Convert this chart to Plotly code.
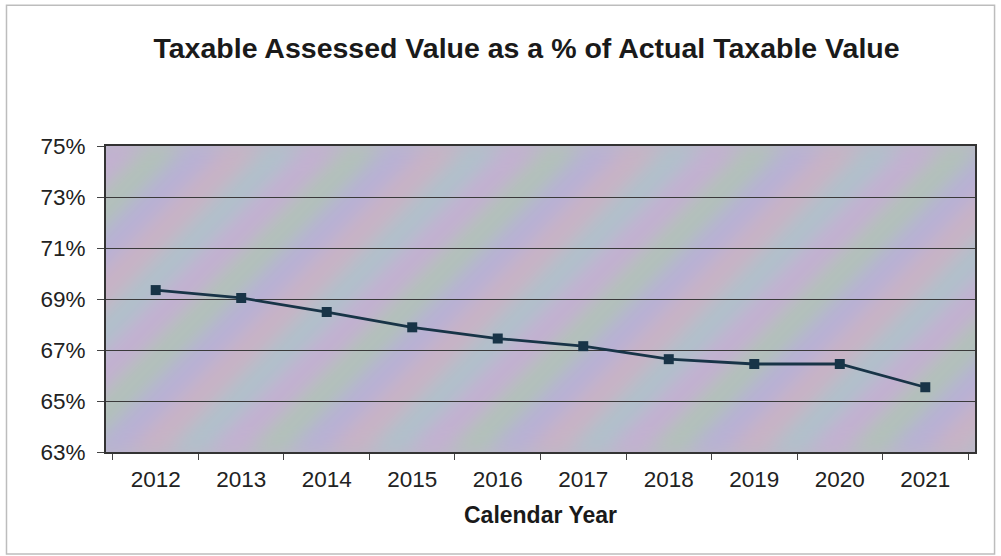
import base64
import plotly.graph_objects as go

# Calendar years and taxable assessed value as a share of actual taxable value (%)
years = ["2012", "2013", "2014", "2015", "2016", "2017", "2018", "2019", "2020", "2021"]
ratio_pct = [69.35, 69.04, 68.49, 67.89, 67.45, 67.15, 66.64, 66.45, 66.45, 65.54]
y_ticks = [63, 65, 67, 69, 71, 73, 75]
y_tick_labels = [f"{v}%" for v in y_ticks]

# Soft diagonal pastel bands for the plot background
bands = []
colors = ["#c4afd2", "#b1c2b7", "#b7b0d6", "#c9b2c4", "#afc1cb"]
for i in range(-20, 40):
    c = colors[i % len(colors)]
    x0 = i * 40
    bands.append(
        f'<polygon points="{x0},0 {x0+40},0 {x0-260},300 {x0-300},300" fill="{c}"/>'
    )
svg = (
    '<svg xmlns="http://www.w3.org/2000/svg" width="870" height="300" viewBox="0 0 870 300">'
    '<defs><filter id="b"><feGaussianBlur stdDeviation="10"/></filter></defs>'
    '<rect width="870" height="300" fill="#bcb8c8"/>'
    f'<g filter="url(#b)">{"".join(bands)}</g></svg>'
)
bg_src = "data:image/svg+xml;base64," + base64.b64encode(svg.encode()).decode()

fig = go.Figure()
fig.add_trace(
    go.Scatter(
        x=years,
        y=ratio_pct,
        mode="lines+markers",
        line=dict(color="#183447", width=2.8),
        marker=dict(symbol="square", size=10, color="#183447"),
        showlegend=False,
        hoverinfo="x+y",
    )
)

fig.update_layout(
    width=1001,
    height=556,
    margin=dict(l=106, r=26, t=146, b=104),
    paper_bgcolor="white",
    plot_bgcolor="#bcb8c8",
    font=dict(family="Arial, Liberation Sans, sans-serif", color="#222222"),
    title=dict(
        text="<b>Taxable Assessed Value as a % of Actual Taxable Value</b>",
        x=0.526,
        xanchor="center",
        y=0.914,
        yanchor="middle",
        font=dict(size=28.5, color="#1a1a1a"),
    ),
    images=[
        dict(
            source=bg_src,
            xref="paper",
            yref="paper",
            x=0,
            y=1,
            sizex=1,
            sizey=1,
            sizing="stretch",
            layer="below",
        )
    ],
    shapes=[
        dict(
            type="rect",
            xref="paper",
            yref="paper",
            x0=-0.1145,
            x1=1.0225,
            y0=-0.333,
            y1=1.46,
            line=dict(color="#bdbdbd", width=1.5),
        )
    ],
)

fig.update_xaxes(
    type="category",
    showgrid=False,
    showline=True,
    linecolor="#333333",
    linewidth=2,
    mirror=True,
    ticks="outside",
    ticklen=6,
    tickcolor="#444444",
    tickson="boundaries",
    ticklabelstandoff=6,
    tickfont=dict(size=22.5, color="#222222"),
    title=dict(
        text="<b>Calendar Year</b>",
        font=dict(size=23, color="#1a1a1a"),
        standoff=16,
    ),
    zeroline=False,
)

fig.update_yaxes(
    range=[63, 75],
    tickvals=y_ticks,
    ticktext=y_tick_labels,
    showgrid=True,
    gridcolor="#3a3a3a",
    gridwidth=1.3,
    showline=True,
    linecolor="#333333",
    linewidth=2,
    mirror=True,
    ticks="outside",
    ticklen=7,
    tickcolor="#444444",
    ticklabelstandoff=7,
    tickfont=dict(size=22.5, color="#222222"),
    zeroline=False,
)

fig.write_html("out.html")
